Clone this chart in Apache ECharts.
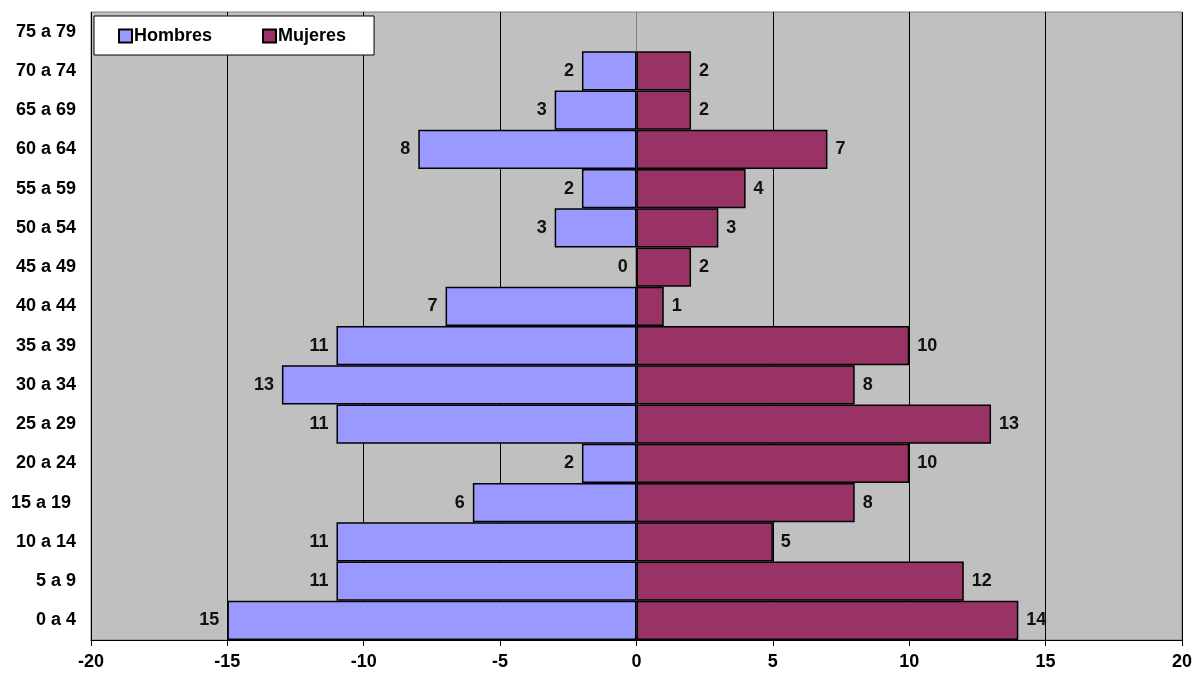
<!DOCTYPE html>
<html>
<head>
<meta charset="utf-8">
<script src="https://cdn.jsdelivr.net/npm/echarts@6/dist/echarts.min.js"></script>
<style>
  html, body { margin: 0; padding: 0; background: #fff; }
  #showChart { width: 1195px; height: 675px; }
</style>
</head>
<body>
<div id="showChart"></div>
<script>
// grupos de edad, de abajo hacia arriba
var edades = ['0 a 4', '5 a 9', '10 a 14', '15 a 19 ', '20 a 24', '25 a 29', '30 a 34', '35 a 39',
    '40 a 44', '45 a 49', '50 a 54', '55 a 59', '60 a 64', '65 a 69', '70 a 74', '75 a 79'];
var hombres = [15, 11, 11, 6, 2, 11, 13, 11, 7, 0, 3, 2, 8, 3, 2, null];
var mujeres = [14, 12, 5, 8, 10, 13, 8, 10, 1, 2, 3, 4, 7, 2, 2, null];
var ejeX = [-20, 20, 5];

var fuente = 'Liberation Sans, Arial, sans-serif';
var tam = 18;

var option = {
    animation: false,
    textStyle: { fontFamily: fuente },
    legend: {
        left: 94,
        top: 16,
        padding: [11, 28, 10, 24],
        itemGap: 50,
        itemWidth: 13,
        itemHeight: 13,
        icon: 'rect',
        backgroundColor: '#fff',
        borderColor: '#000',
        borderWidth: 1,
        borderRadius: 0,
        textStyle: { fontFamily: fuente, fontWeight: 'bold', fontSize: tam, color: '#000', padding: [0, 0, 0, -3] },
        data: ['Hombres', 'Mujeres']
    },
    grid: {
        left: 91,
        right: 13,
        top: 12,
        bottom: 35,
        show: true,
        backgroundColor: '#C0C0C0',
        borderColor: '#808080',
        borderWidth: 1
    },
    xAxis: {
        type: 'value',
        min: ejeX[0],
        max: ejeX[1],
        interval: ejeX[2],
        axisLine: { show: true, lineStyle: { color: '#000', width: 1 } },
        axisTick: { show: true, length: 6, lineStyle: { color: '#000' } },
        axisLabel: { fontFamily: fuente, fontWeight: 'bold', fontSize: tam, color: '#000', margin: 13 },
        splitLine: { show: true, lineStyle: { color: '#000', width: 1 } }
    },
    yAxis: {
        type: 'category',
        data: edades,
        axisLine: { show: true, lineStyle: { color: '#808080' } },
        axisTick: { show: false },
        axisLabel: { fontFamily: fuente, fontWeight: 'bold', fontSize: tam, color: '#000', margin: 15 }
    },
    series: [
        {
            name: 'Hombres',
            type: 'bar',
            stack: 'total',
            barCategoryGap: 0,
            data: hombres.map(function (v) { return v === null ? null : -v; }),
            itemStyle: { color: '#9999FF', borderColor: '#000', borderWidth: 1.5 },
            label: {
                show: true,
                position: 'left',
                distance: 8,
                fontFamily: fuente, fontWeight: 'bold', fontSize: tam, color: '#111',
                formatter: function (p) { return Math.abs(p.value); }
            }
        },
        {
            name: 'Mujeres',
            type: 'bar',
            stack: 'total',
            barCategoryGap: 0,
            data: mujeres,
            itemStyle: { color: '#993366', borderColor: '#000', borderWidth: 1.5 },
            label: {
                show: true,
                position: 'right',
                distance: 8,
                fontFamily: fuente, fontWeight: 'bold', fontSize: tam, color: '#111'
            }
        }
    ]
};

var chartOut = echarts.init(document.getElementById('showChart'));
chartOut.setOption(option);
</script>
</body>
</html>
